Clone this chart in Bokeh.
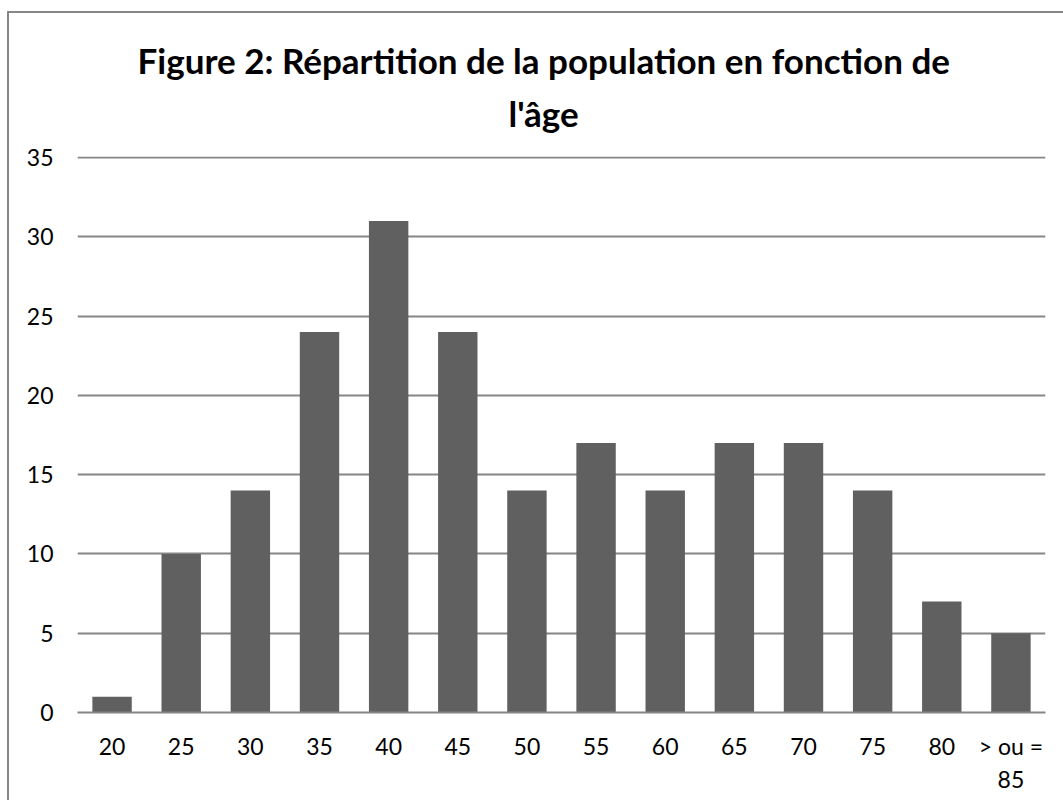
from bokeh.plotting import figure
from bokeh.models import Title, FixedTicker, Range1d
from bokeh.embed import file_html
from bokeh.resources import INLINE

categories = ["20", "25", "30", "35", "40", "45", "50", "55", "60", "65", "70", "75", "80", "> ou =\n85"]
counts = [1, 10, 14, 24, 31, 24, 14, 17, 14, 17, 17, 14, 7, 5]
y_ticks = [0, 5, 10, 15, 20, 25, 30, 35]
title_line1 = "Figure 2: Répartition de la population en fonction de"
title_line2 = "l'âge"

FONT = "Lato"

p = figure(x_range=categories, y_range=Range1d(0, 35.07), width=1056, height=789,
           output_backend="svg", toolbar_location=None,
           min_border_left=68, min_border_right=20, min_border_top=143, min_border_bottom=90)

p.vbar(x=categories, top=counts, width=0.57, fill_color="#606060", line_color=None)

p.add_layout(Title(text=title_line2, align="left", text_font=FONT, text_font_size="35px",
                   text_font_style="bold", text_color="#000000", offset=431, standoff=46), "above")
p.add_layout(Title(text=title_line1, align="left", text_font=FONT, text_font_size="35px",
                   text_font_style="bold", text_color="#000000", offset=60, standoff=-28), "above")

p.yaxis.ticker = FixedTicker(ticks=y_ticks)
p.yaxis.axis_line_color = None
p.yaxis.major_tick_line_color = None
p.yaxis.minor_tick_line_color = None
p.yaxis.major_label_standoff = 18
p.yaxis.major_label_text_font = FONT
p.yaxis.major_label_text_font_size = "23px"
p.yaxis.major_label_text_color = "#000000"

p.xaxis.axis_line_color = "#868686"
p.xaxis.axis_line_width = 2
p.xaxis.major_tick_line_color = None
p.xaxis.minor_tick_line_color = None
p.xaxis.major_label_standoff = 13
p.xaxis.major_label_text_font = FONT
p.xaxis.major_label_text_font_size = "23px"
p.xaxis.major_label_text_color = "#000000"

p.xgrid.grid_line_color = None
p.ygrid.grid_line_color = "#868686"
p.ygrid.grid_line_width = 2
p.outline_line_color = None
p.x_range.range_padding = 0

p.styles = {"border-left": "2px solid #868686", "border-top": "2px solid #868686",
            "margin-top": "11px", "margin-left": "7px"}

open("out.html", "w").write(file_html(p, INLINE))
